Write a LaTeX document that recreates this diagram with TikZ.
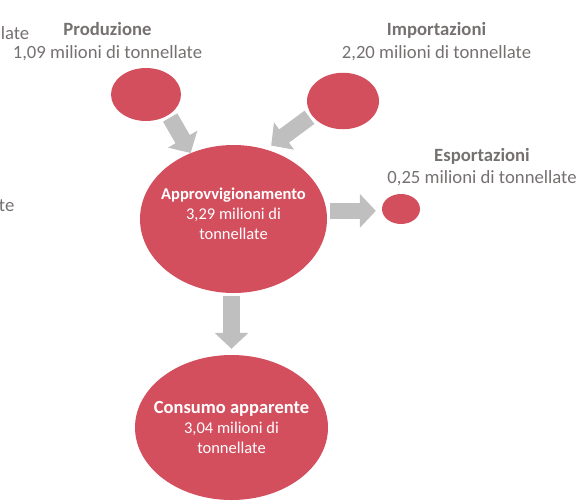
\documentclass[tikz,border=0pt]{standalone}
\usepackage{fontspec}
\setmainfont{Carlito}
\usetikzlibrary{arrows.meta,shapes.geometric}
\definecolor{flowred}{RGB}{212,79,94}
\definecolor{flowgray}{RGB}{191,191,191}
\definecolor{labelgray}{RGB}{118,113,113}
\begin{document}
\begin{tikzpicture}[x=1pt, y=-1pt,
    blob/.style={ellipse, fill=flowred, inner sep=0pt},
    blobtext/.style={text=white, align=center, inner sep=0pt,
      font=\fontsize{16.5}{20}\selectfont},
    bigarrow/.style={flowgray, line width=16.5pt, -{Triangle[length=16pt,width=33pt]},
      shorten <=3pt},
    caption/.style={text=labelgray, align=center, font=\fontsize{18.7}{22.5}\selectfont}]
  \useasboundingbox (0,0) rectangle (585,501);

  % the three small flows
  \node[blob, minimum width=70pt, minimum height=53pt] (prod) at (146,94.5) {};
  \node[blob, minimum width=72pt, minimum height=56.5pt] (imp) at (343,101) {};
  \node[blob, minimum width=38pt, minimum height=30pt] (exp) at (401,209) {};

  % supply and consumption
  \node[blob, minimum width=187pt, minimum height=148pt] (supply) at (233.5,219) {};
  \node[blobtext, yshift=5pt] (supplytext) at (supply.center)
    {\textbf{Approvvigionamento}\\3,29 milioni di\\tonnellate};
  \node[blob, minimum width=193pt, minimum height=145pt] (cons) at (231.5,427.5) {};
  \node[blobtext] (constext) at (cons.center)
    {{\fontsize{18.5}{21}\selectfont\textbf{Consumo apparente}}\\3,04 milioni di\\tonnellate};

  % captions
  \node[caption] (prodtext) at (107.5,41.5) {\textbf{Produzione}\\1,09 milioni di tonnellate};
  \node[caption] (imptext) at (436.5,41.5) {\textbf{Importazioni}\\2,20 milioni di tonnellate};
  \node[caption] (exptext) at (482,167) {\textbf{Esportazioni}\\0,25 milioni di tonnellate};

  % cut off at the left border
  \node[caption, anchor=base east, inner sep=0pt] (cutA) at (29.5,39) {llate};
  \node[caption, anchor=base east, inner sep=0pt] (cutB) at (14.5,211.5) {te};

  % arrows
  \draw[bigarrow] (prod.-42) -- (supply.123);
  \draw[bigarrow, shorten >=6.5pt] (imp.-155) -- (supply.65);
  \draw[bigarrow, shorten >=6pt] (supply.5) -- (supply.5 -| exp.west);
  \draw[bigarrow, shorten >=6pt] (cons.north |- supply.south) -- (cons.north);
\end{tikzpicture}
\end{document}
